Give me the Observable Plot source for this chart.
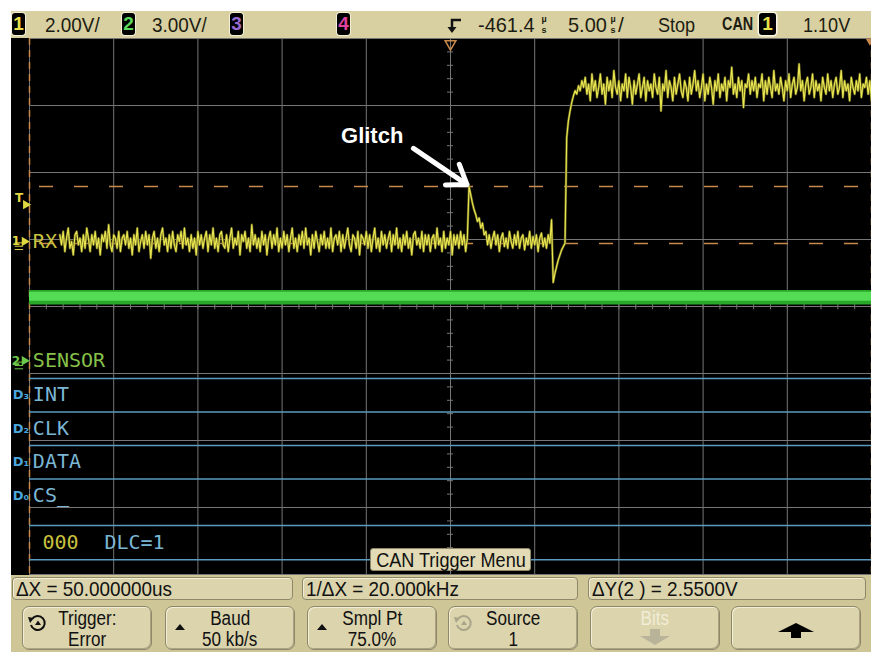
<!DOCTYPE html>
<html><head><meta charset="utf-8">
<script src="https://cdn.jsdelivr.net/npm/d3@7"></script>
<script src="https://cdn.jsdelivr.net/npm/@observablehq/plot@0.6"></script>
<style>
html,body{margin:0;padding:0;background:#fff;}
#wrap{position:relative;width:871px;height:652px;overflow:hidden;background:#fff;}
.n{font-family:"Liberation Sans",Arial,sans-serif;}
.sx{display:inline-block;white-space:nowrap;}
#topbar{position:absolute;left:11px;top:11px;width:860px;height:27px;background:#d8d0a1;}
#topbar .t{position:absolute;top:1px;font-size:21px;color:#1c1c12;line-height:25px;white-space:nowrap;}
.badge{position:absolute;top:2px;width:13px;height:22px;background:#000;border-radius:3px;box-shadow:0 0 0 1px #f3efd6;font-size:19px;line-height:22px;text-align:center;font-weight:bold;}
.stack{position:absolute;top:3px;font-size:9px;line-height:11px;color:#1c1c12;text-align:center;width:8px;font-weight:bold;}
#scope{position:absolute;left:11px;top:38px;width:860px;height:537px;background:#000;}
#scope svg{display:block;}
#menu{position:absolute;left:359px;top:510px;width:161px;height:23px;background:#e2dbb6;border:1px solid #8e8768;border-radius:3px;box-sizing:border-box;font-size:21px;line-height:21px;color:#111;display:flex;justify-content:center;overflow:visible;}
#bottom{position:absolute;left:11px;top:575px;width:860px;height:77px;background:#cfc698;}
.box{position:absolute;top:2px;height:23px;background:#dbd4ad;border:1px solid #8e8768;border-radius:4px;box-sizing:border-box;font-size:21px;line-height:21px;padding-left:3px;color:#111;box-shadow:inset 1px 1px 0 #f2eed6;white-space:nowrap;}
.btn{position:absolute;top:31px;width:130px;height:44px;background:#dbd4ad;border:1px solid #8e8768;border-radius:7px;box-sizing:border-box;color:#111;box-shadow:inset 1px 1px 0 #f2eed6, inset -1px -1px 0 #a9a283;}
.btn .l1,.btn .l2{position:absolute;left:0;width:100%;text-align:center;font-size:19px;line-height:19px;white-space:nowrap;}
.btn .l1{top:2px;}
.btn .l2{top:23px;}
.btn .ic{position:absolute;left:4px;top:4px;}
</style></head>
<body>
<div id="wrap">
  <div id="topbar" class="n"></div>
  <div id="scope"><div id="menu" class="n"></div></div>
  <div id="bottom" class="n"></div>
</div>
<script>
// ---------- status / text data ----------
const channelScales = ["2.00V/", "3.00V/"];
const channelBadges = ["1", "2", "3", "4"];
const badgeColors = ["#e8e04a", "#5cd85c", "#9a6ad0", "#e040a0"];
const delayValue = "-461.4";
const timePerDiv = "5.00";
const runState = "Stop";
const triggerType = "CAN";
const triggerSource = "1";
const triggerLevelText = "1.10V";
const measurements = ["ΔX = 50.000000us", "1/ΔX = 20.000kHz", "ΔY(2 ) = 2.5500V"];
const softkeyTop = ["Trigger:", "Baud", "Smpl Pt", "Source", "Bits", ""];
const softkeyBottom = ["Error", "50 kb/s", "75.0%", "1", "", ""];
const menuTitle = "CAN Trigger Menu";

// ---------- signal data (channel 1 "RX", volts) ----------
const ch1VoltsPerDiv = 2, ch1Offset = 0.97;     // ground position, divisions above centre
const ch2VoltsPerDiv = 3, ch2Offset = -0.81;
// idle (recessive) level with noise, 1.8 .. 26.0 µs every 0.1 µs
const ch1Idle = [
 .2,-.1,.3,-.3,.1,.4,-.2,0,-.4,.2,.3,-.1,.1,-.3,.2,-.2,.4,.1,-.3,.2,
 -.1,.3,-.2,.1,-.4,.2,0,.3,-.2,.5,-.1,-.3,.2,.1,-.2,.3,-.3,.1,.2,-.1,
 .3,-.2,.1,-.4,.2,-.1,.4,-.3,0,.2,-.2,.3,-.1,.2,-.5,.1,.3,-.2,.1,-.3,
 .2,.4,-.1,.1,-.3,.2,-.2,.3,-.1,-.3,.2,0,.3,-.2,.4,-.1,.1,-.3,.2,-.2,
 .1,-.4,.3,-.1,.2,-.2,.1,.3,-.3,.2,-.1,.4,-.2,.1,-.3,.2,.3,-.1,-.2,.2,
 -.3,.1,.4,-.2,.1,-.1,.3,-.4,.2,0,.3,-.2,.1,-.3,.5,-.1,.2,-.2,.1,-.3,
 .3,-.1,.2,-.4,.1,.3,-.2,.2,-.1,.4,-.3,.1,-.2,.3,-.1,.2,-.3,.1,.4,-.2,
 .1,-.3,.2,-.1,.3,-.2,.4,-.1,.1,-.4,.2,-.2,.3,0,-.3,.2,-.1,.3,-.2,.1,
 -.2,.4,-.3,.1,.2,-.1,.3,-.3,.2,-.2,.1,.4,-.1,-.3,.2,.1,-.2,.3,-.4,.2,
 .1,-.1,.3,-.2,.2,-.3,.1,.4,-.2,.1,-.3,.3,-.1,.2,-.2,.1,.3,-.3,.2,-.1,
 .4,-.2,.1,-.3,.2,-.1,.3,-.2,.1,-.4,.2,.3,-.1,.1,-.2,.3,-.3,.2,-.1,.2,
 -.3,.1,.2,-.2,.4,-.1,.1,-.3,.3,-.2,.1,-.1,.3,-.4,.2,-.1,.2,-.2,.3,-.1,
 .2,-.3,.1];
// glitch and settling, 26.1 .. 31.0 µs
const ch1Glitch = [1.64,1.4,1.15,.95,.8,.6,.7,.4,.55,.2,
 .3,-.1,.2,-.2,.1,.3,-.1,.2,-.3,.1,.25,-.15,.1,-.2,.3,0,-.2,.2,-.1,.3,
 -.2,.1,.2,-.25,.1,-.1,.3,-.2,.15,-.1,.2,-.3,.1,.25,-.15,.1,-.2,.2,-.05,
 .65];
// undershoot and rising edge, 31.1 .. 32.9 µs
const ch1Edge = [-1.22,-.95,-.75,-.55,-.4,-.25,-.15,-.05,3.1,3.6,3.9,4.15,4.35,4.5,4.4,4.65,4.5,4.8,4.6];
// dominant level with noise, 33.0 .. 50.0 µs
const ch1High = [
 4.9,4.4,4.7,4.2,5.0,4.5,4.8,4.3,4.6,5.0,4.4,4.7,4.1,4.9,4.5,4.8,4.3,5.1,4.6,4.4,
 4.8,4.2,4.7,4.5,5.0,4.3,4.9,4.6,4.1,4.8,4.4,4.7,5.0,4.3,4.6,4.9,4.2,4.8,4.5,4.7,
 4.3,5.0,4.6,4.4,4.9,3.9,4.7,4.5,5.1,4.3,4.8,4.6,4.2,4.9,4.4,4.7,5.0,4.5,4.3,4.8,
 4.6,4.2,4.9,4.4,4.7,5.1,4.5,4.8,4.3,4.6,5.0,4.2,4.7,4.4,4.9,4.6,4.1,4.8,4.5,5.0,
 4.3,4.7,4.5,4.9,4.2,4.8,4.6,5.2,4.4,4.7,4.3,4.9,4.5,4.8,4.0,4.7,4.6,5.0,4.4,4.8,
 4.5,4.9,4.3,4.7,4.6,5.0,4.2,4.8,4.4,4.9,4.6,4.3,5.1,4.5,4.7,4.4,4.9,4.6,4.2,4.8,
 4.5,5.0,4.3,4.7,4.9,4.4,4.6,5.3,4.5,4.8,4.2,4.7,4.9,4.4,4.6,5.0,4.3,4.8,4.5,4.7,
 4.2,4.9,4.6,4.4,5.0,4.5,4.8,4.3,4.7,4.9,4.4,4.6,5.1,4.3,4.8,4.5,4.7,4.2,4.9,4.6,
 4.4,4.8,4.5,5.0,4.3,4.7,4.6,4.9,4.4,4.8,4.2];
const ch1Segments = [
  {start: 1.8, values: ch1Idle},
  {start: 26.1, values: ch1Glitch},
  {start: 31.1, values: ch1Edge},
  {start: 33.0, values: ch1High}
];
const ch1Step = 0.1; // µs sample interval
// channel 2 (SENSOR) flat noisy trace envelope, volts
const ch2Times = [0, 50];
const ch2Low = [2.5, 2.5];
const ch2High = [3.15, 3.15];
const ch2Mid = [2.87, 2.87];
// cursors & trigger
const cursorX = [0, 50];            // µs
const cursorY = [7.8, 5.25];        // V on channel 2
const triggerLevel = 1.10;          // V on channel 1
const triggerTime = 25;             // µs (screen centre)
// digital channels
const digitalIds = ["D₃", "D₂", "D₁", "D₀"];
const digitalNames = ["INT", "CLK", "DATA", "CS_"];
const busId = "000", busText = "DLC=1";
const glitchLabel = "Glitch";

// ---------- build data tables ----------
const ch1 = ch1Segments.flatMap(s => s.values.map((v, i) => ({t: s.start + i * ch1Step, v})));
const ch2 = ch2Times.map((t, i) => ({t, lo: ch2Low[i], hi: ch2High[i], mid: ch2Mid[i]}));
const y1 = v => ch1Offset + v / ch1VoltsPerDiv;
const y2 = v => ch2Offset + v / ch2VoltsPerDiv;
const lanes = digitalNames.map((name, i) => ({id: digitalIds[i], name, level: -1.075 - 0.5 * i}));
const busLines = [-3.27, -3.78];
const glitchPeak = ch1.find(d => d.v === d3.max(ch1Glitch));

const grey = "#767676", orange = "#c8894a", blue = "#5a9cc0", blueText = "#7ab6d4";
const yellow = "#ece852";
const mono = "DejaVu Sans Mono";

const chart = Plot.plot({
  width: 860, height: 537,
  marginLeft: 18, marginRight: 0, marginTop: 0, marginBottom: 1,
  x: {domain: [0, 50], axis: null},
  y: {domain: [-4, 4], axis: null},
  style: {background: "#000", overflow: "visible"},
  marks: [
    Plot.ruleX(d3.range(0, 51, 5), {stroke: grey, strokeWidth: 1}),
    Plot.ruleY(d3.range(-4, 5, 1), {stroke: grey, strokeWidth: 1}),
    Plot.ruleY(d3.range(-4, 4.01, 0.2), {x1: 24.82, x2: 25.18, stroke: grey}),
    Plot.ruleX(d3.range(0, 50.01, 1), {y1: -0.05, y2: 0.05, stroke: grey}),
    Plot.ruleX(cursorX, {stroke: orange, strokeWidth: 1.5, strokeDasharray: "7,5"}),
    Plot.ruleY(cursorY, {y: d => y2(d), stroke: orange, strokeWidth: 1.5, strokeDasharray: "14,21", strokeDashoffset: 25}),
    Plot.ruleY(lanes, {y: "level", stroke: blue, strokeWidth: 1.5}),
    Plot.ruleY(busLines, {stroke: blue, strokeWidth: 1.5}),
    Plot.areaY(ch2, {x: "t", y1: d => y2(d.lo), y2: d => y2(d.hi), fill: "#2aa82a"}),
    Plot.areaY(ch2, {x: "t", y1: d => y2(d.mid - 0.2), y2: d => y2(d.mid + 0.2), fill: "#55dc55"}),
    Plot.line(ch1, {x: "t", y: d => y1(d.v), stroke: "#6f6d20", strokeWidth: 2.4}),
    Plot.line(ch1, {x: "t", y: d => y1(d.v), stroke: yellow, strokeWidth: 1.1}),
    // left-hand labels
    Plot.text([{s: "RX"}], {x: 0.2, y: ch1Offset, text: "s", fill: "#c9c23e", fontSize: 20, fontFamily: mono, textAnchor: "start"}),
    Plot.text([{s: "SENSOR"}], {x: 0.2, y: ch2Offset, text: "s", fill: "#86c048", fontSize: 20, fontFamily: mono, textAnchor: "start"}),
    Plot.text(lanes, {x: 0.2, y: d => d.level - 0.24, text: "name", fill: blueText, fontSize: 20, fontFamily: mono, textAnchor: "start"}),
    Plot.text(lanes, {x: -1.0, y: d => d.level - 0.25, text: "id", fill: "#4aa6dc", fontSize: 13, fontWeight: "bold", fontFamily: "DejaVu Sans", textAnchor: "start"}),
    Plot.text([busId], {x: 0.77, y: -3.52, text: d => d, fill: "#c9c23e", fontSize: 20, fontFamily: mono, textAnchor: "start"}),
    Plot.text([busText], {x: 4.45, y: -3.52, text: d => d, fill: blueText, fontSize: 20, fontFamily: mono, textAnchor: "start"}),
    // channel / trigger markers
    Plot.text(["T"], {x: -0.62, y: y1(triggerLevel) + 0.1, text: d => d, fill: "#e0d840", fontSize: 12, fontWeight: "bold", fontFamily: "DejaVu Sans"}),
    Plot.dot([triggerLevel], {x: -0.22, y: d => y1(d), symbol: "triangle", rotate: 90, r: 3.5, fill: "#e0d840"}),
    Plot.text(["1"], {x: -0.8, y: ch1Offset, text: d => d, fill: "#e0d840", fontSize: 12, fontWeight: "bold", fontFamily: "DejaVu Sans"}),
    Plot.dot([ch1Offset], {x: -0.3, y: d => d, symbol: "triangle", rotate: 90, r: 3.5, fill: "#e0d840"}),
    Plot.ruleY([0.12, 0.07, 0.02], {y: d => ch1Offset - d, x1: -0.85, x2: -0.35, stroke: "#e0d840"}),
    Plot.text(["2"], {x: -0.8, y: ch2Offset, text: d => d, fill: "#6cc84a", fontSize: 12, fontWeight: "bold", fontFamily: "DejaVu Sans"}),
    Plot.dot([ch2Offset], {x: -0.3, y: d => d, symbol: "triangle", rotate: 90, r: 3.5, fill: "#6cc84a"}),
    Plot.ruleY([0.12, 0.07, 0.02], {y: d => ch2Offset - d, x1: -0.85, x2: -0.35, stroke: "#6cc84a"}),
    Plot.dot([triggerTime], {x: d => d, y: 3.92, symbol: "triangle", rotate: 180, r: 4, stroke: orange, fill: "none", strokeWidth: 1.5}),
    Plot.dot([cursorX[1]], {x: d => d - 0.1, y: 3.96, symbol: "triangle", rotate: 180, r: 3, fill: orange}),
    // annotation
    Plot.text([glitchLabel], {x: 20.35, y: 2.55, text: d => d, fill: "#fff", fontSize: 22, fontWeight: "bold", fontFamily: "Liberation Sans, sans-serif"}),
    Plot.arrow([glitchPeak], {x1: 22.8, y1: 2.36, x2: d => d.t - 0.12, y2: d => y1(d.v) + 0.03, stroke: "#fff", strokeWidth: 5, headLength: 16, headAngle: 70})
  ]
});
document.getElementById("scope").prepend(chart);

function sx(text, scale, origin, sy) {
  const tf = sy ? `scale(${scale},${sy})` : `scaleX(${scale})`;
  return `<span class="sx" style="transform:${tf};transform-origin:${origin}">${text}</span>`;
}
document.getElementById("menu").innerHTML = sx(menuTitle, 0.86, "center");

// ---------- top status bar ----------
const topBar = document.getElementById("topbar");
function add(parent, cls, left, html, extra) {
  const e = document.createElement("div");
  e.className = cls; e.style.left = left + "px"; e.innerHTML = html;
  if (extra) Object.assign(e.style, extra);
  parent.appendChild(e); return e;
}
[1, 111, 219, 326].forEach((l, i) => add(topBar, "badge", l, channelBadges[i], {color: badgeColors[i]}));
add(topBar, "t", 34, sx(channelScales[0], 0.9, "left"));
add(topBar, "t", 141, sx(channelScales[1], 0.9, "left"));
add(topBar, "t", 436, '<svg width="16" height="22" viewBox="0 0 16 22"><path d="M14 6 H5 V17" fill="none" stroke="#111" stroke-width="2.5"/><path d="M0.5 13 L5 19 L9.5 13 Z" fill="#111"/></svg>', {top: "3px"});
add(topBar, "t", 467, sx(delayValue, 0.95, "left"));
add(topBar, "stack", 529, "µ<br>s");
add(topBar, "t", 557, sx(timePerDiv, 0.95, "left"));
add(topBar, "stack", 598, "µ<br>s");
add(topBar, "t", 607, "/");
add(topBar, "t", 647, sx(runState, 0.86, "left"));
add(topBar, "t", 711, sx(triggerType, 0.8, "left"), {fontSize: "18px", fontWeight: "bold"});
add(topBar, "badge", 748, triggerSource, {width: "17px", color: "#e8e04a", boxShadow: "0 0 0 1.5px #fbf8e6"});
add(topBar, "t", 792, sx(triggerLevelText, 0.86, "left"));

// ---------- bottom softkey panel ----------
const bottom = document.getElementById("bottom");
const boxLeft = [1, 291, 577], boxWidth = [281, 276, 278];
measurements.forEach((m, i) => add(bottom, "box", boxLeft[i], sx(m, 0.9, "left"), {width: boxWidth[i] + "px"}));
const btnLeft = [11, 154, 296, 437, 579, 720];
const cycleIcon = c => `<svg width="20" height="20" viewBox="0 0 20 20"><path d="M5 6 A7 7 0 1 1 4 12" fill="none" stroke="${c}" stroke-width="2"/><path d="M1 4 L7 5 L3 10 Z" fill="${c}"/><path d="M8 12 L11 7.5 L14 12 Z" fill="${c}"/></svg>`;
btnLeft.forEach((l, i) => {
  const b = add(bottom, "btn", l, "");
  const t1 = document.createElement("div"); t1.className = "l1"; t1.innerHTML = sx(softkeyTop[i], 0.9, "center", 1.05);
  const t2 = document.createElement("div"); t2.className = "l2"; t2.innerHTML = sx(softkeyBottom[i], 0.9, "center", 1.05);
  b.appendChild(t1); b.appendChild(t2);
  if (i === 0) add(b, "ic", 4, cycleIcon("#111"), {top: "6px"});
  if (i === 3) add(b, "ic", 4, cycleIcon("#aaa48a"), {top: "6px"});
  if (i === 1 || i === 2) add(b, "ic", 9, '<svg width="10" height="8"><path d="M0 7 L5 1 L10 7 Z" fill="#111"/></svg>', {top: "10px"});
  if (i === 4) {
    t1.style.color = "#f1edd6";
    add(b, "ic", 45, '<svg width="40" height="18"><rect x="14" y="0" width="10" height="7" fill="#b9b39a"/><path d="M4 7 L34 7 L19 16 Z" fill="#b9b39a"/></svg>', {top: "22px"});
  }
  if (i === 5) add(b, "ic", 42, '<svg width="44" height="20"><path d="M4 11 L22 2 L40 11 Z" fill="#000"/><rect x="17" y="11" width="10" height="6" fill="#000"/></svg>', {top: "14px"});
});
</script>
</body></html>
